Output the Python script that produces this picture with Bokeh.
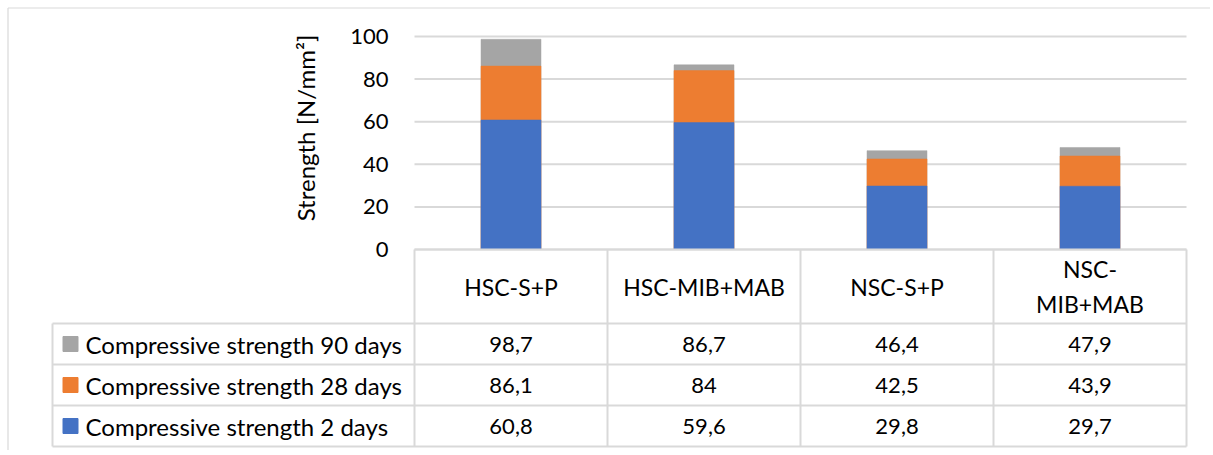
from bokeh.plotting import figure
from bokeh.models import Range1d, LinearAxis, FixedTicker
from bokeh.core.properties import value
from bokeh.embed import file_html
from bokeh.resources import INLINE

# ---------------- data ----------------
categories = ["HSC-S+P", "HSC-MIB+MAB", "NSC-S+P", "NSC-\nMIB+MAB"]
series_names = ["Compressive strength 90 days",
                "Compressive strength 28 days",
                "Compressive strength 2 days"]
strength_90 = [98.7, 86.7, 46.4, 47.9]
strength_28 = [86.1, 84.0, 42.5, 43.9]
strength_2 = [60.8, 59.6, 29.8, 29.7]
y_ticks = [0, 20, 40, 60, 80, 100]
y_label = "Strength [N/mm²]"

# ---------------- styles / geometry ----------------
colors = ["#A5A5A5", "#ED7D31", "#4472C4"]
LINE = "#D9D9D9"
TXT = "#000000"
FONT = "Lato"
NUM_FS = "22px"
WORD_FS = "24px"
CAT_FS = "23px"

W, H = 1210, 450
COL_PX = 193.0          # px per category column
UNIT_PX = 2.13          # px per strength unit
X0_PX = 510.5           # canvas px of first category centre
Y0_PX = 249.0           # canvas px of value 0

def px_x(px):           # canvas x px -> data x
    return (px - X0_PX) / COL_PX

def px_y(px):           # canvas y px -> data y
    return (Y0_PX - px) / UNIT_PX

x_start = px_x(0)
x_end = px_x(W)
y_start = px_y(H)
y_end = px_y(0)

p = figure(width=W, height=H, output_backend="svg", toolbar_location=None,
           x_range=Range1d(x_start, x_end), y_range=Range1d(y_start, y_end),
           x_axis_type=None, y_axis_type=None, min_border=0,
           background_fill_color="white", border_fill_color="white")
p.outline_line_color = None
p.grid.visible = False

n = len(categories)
xs = list(range(n))
left_edge = -0.5
right_edge = n - 0.5

# outer border (left + top visible in reference)
p.segment(x0=[px_x(7.5), px_x(7.5)], y0=[y_start, px_y(7.5)],
          x1=[px_x(7.5), x_end], y1=[px_y(7.5), px_y(7.5)],
          line_color=LINE, line_width=1.2)

# grid lines
p.segment(x0=[left_edge] * len(y_ticks), x1=[right_edge] * len(y_ticks),
          y0=y_ticks, y1=y_ticks, line_color=LINE, line_width=2)

# bars (overlapping, tallest behind)
bar_w = 60 / COL_PX
for vals, c in zip([strength_90, strength_28, strength_2], colors):
    p.vbar(x=xs, top=vals, bottom=0, width=bar_w, fill_color=c, line_color=c, line_width=0.5)

# y axis at the left edge of plot area
yaxis = LinearAxis(ticker=FixedTicker(ticks=y_ticks), fixed_location=left_edge,
                   axis_label=y_label, bounds=(0, 114))
yaxis.axis_line_color = None
yaxis.major_tick_line_color = None
yaxis.minor_tick_line_color = None
yaxis.major_tick_out = 0
yaxis.major_tick_in = 0
yaxis.major_label_standoff = 26
yaxis.major_label_text_font = FONT
yaxis.major_label_text_font_size = NUM_FS
yaxis.major_label_text_color = TXT
yaxis.axis_label_text_font = FONT
yaxis.axis_label_text_font_size = WORD_FS
yaxis.axis_label_text_font_style = "normal"
yaxis.axis_label_text_color = TXT
yaxis.axis_label_standoff = 27
p.add_layout(yaxis, "left")

# ---------------- data table ----------------
header_bot = px_y(323)
row_h = 41 / UNIT_PX
row_bots = [header_bot - row_h * (i + 1) for i in range(3)]
table_left = px_x(52)
col_edges = [left_edge + i for i in range(n + 1)]

# horizontal lines
hx0 = [left_edge] + [table_left] * 4
hx1 = [right_edge] * 5
hy = [0, header_bot] + row_bots
p.segment(x0=hx0, x1=hx1, y0=hy, y1=hy, line_color=LINE, line_width=2)
# vertical lines
vx = col_edges + [table_left]
vy0 = [0] * len(col_edges) + [header_bot]
vy1 = [row_bots[-1]] * (len(col_edges) + 1)
p.segment(x0=vx, x1=vx, y0=vy0, y1=vy1, line_color=LINE, line_width=2)

# header labels
p.text(x=xs, y=[header_bot / 2] * n, text=categories, text_align="center",
       text_baseline="middle", text_font=value(FONT), text_font_size=CAT_FS,
       text_color=TXT, text_line_height=1.25)

def fmt(v):
    return f"{v:g}".replace(".", ",")

row_mid = [header_bot - row_h * (i + 0.5) for i in range(3)]
for r, vals in enumerate([strength_90, strength_28, strength_2]):
    p.text(x=xs, y=[row_mid[r]] * n, text=[fmt(v) for v in vals],
           text_align="center", text_baseline="middle", text_font=value(FONT),
           text_font_size=NUM_FS, text_color=TXT)

# legend keys in table
p.scatter(x=[px_x(70)] * 3, y=row_mid, marker="square", size=15,
          fill_color=colors, line_color=colors)
p.text(x=[px_x(85)] * 3, y=row_mid, text=series_names, text_align="left",
       text_baseline="middle", text_font=value(FONT), text_font_size=WORD_FS,
       text_color=TXT)

open("out.html", "w").write(file_html(p, INLINE))
